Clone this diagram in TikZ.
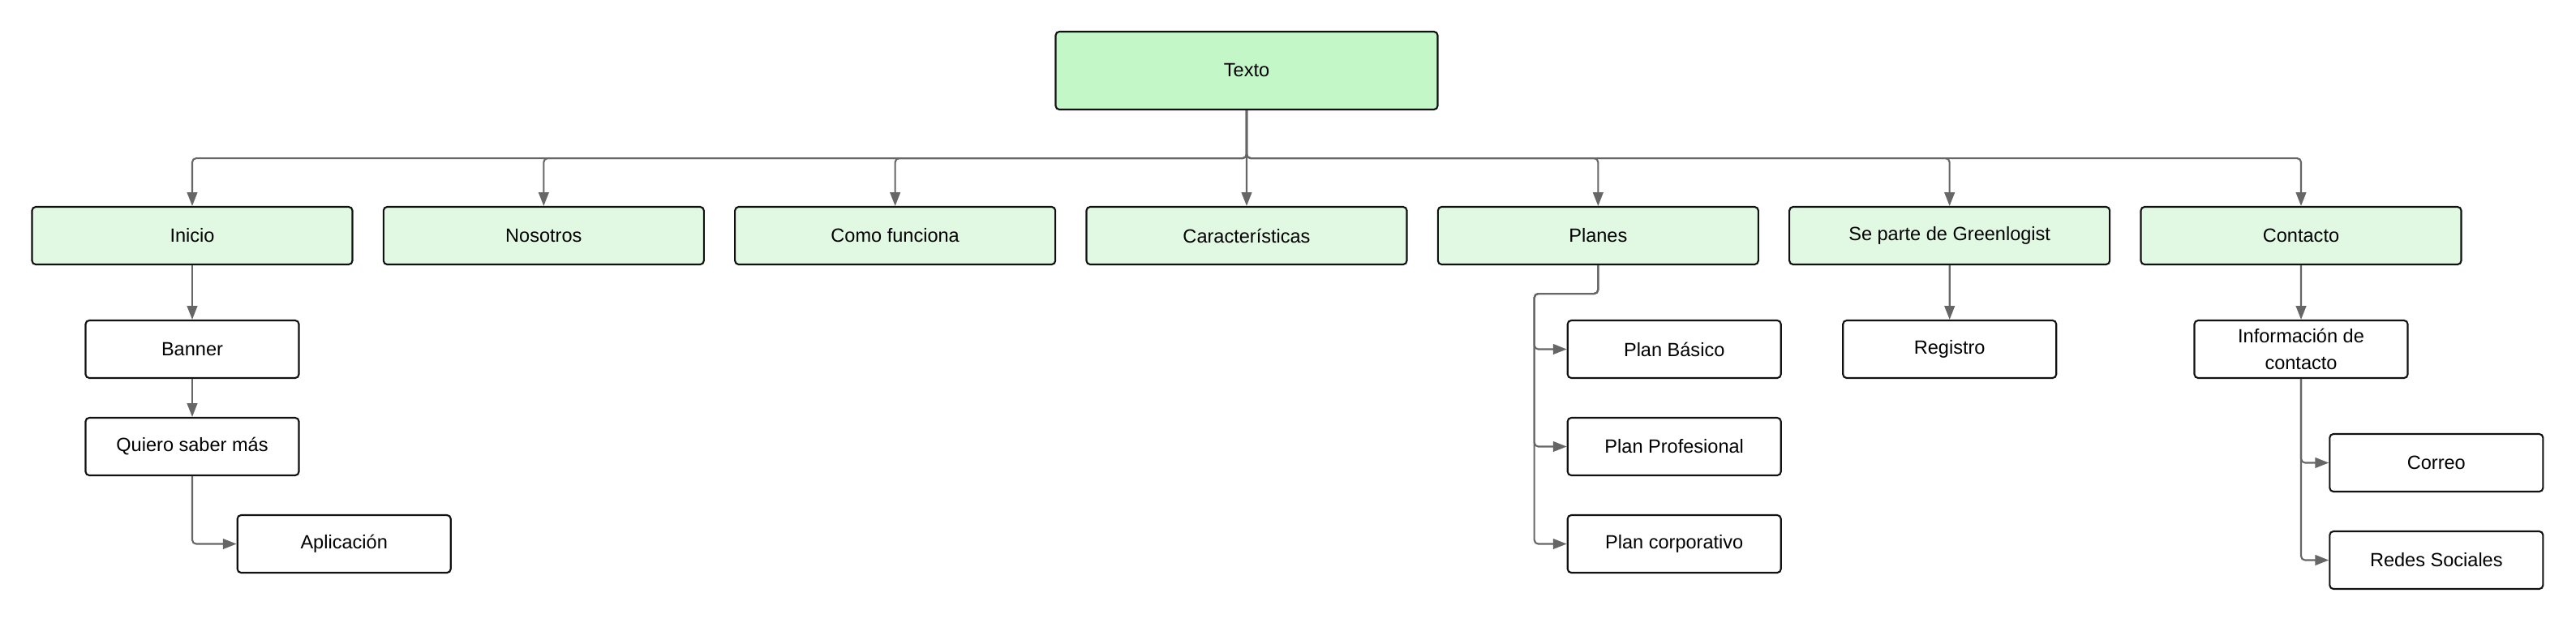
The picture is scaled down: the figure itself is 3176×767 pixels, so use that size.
\documentclass[tikz,border=0pt]{standalone}
\usepackage{fontspec}
\setmainfont{Liberation Sans}
\usetikzlibrary{arrows.meta,calc}
\definecolor{rootgreen}{HTML}{C3F7C8}
\definecolor{pagegreen}{HTML}{E1F9E3}
\definecolor{linkgray}{HTML}{666666}
\definecolor{boxline}{HTML}{111111}
\tikzset{
  box/.style={draw=boxline,line width=0.6pt,rounded corners=1.3pt,inner sep=0pt,align=center,font=\fontsize{6.7pt}{9.3pt}\selectfont},
  root/.style={box,fill=rootgreen,minimum width=47.1mm,minimum height=9.6mm},
  page/.style={box,fill=pagegreen,minimum width=39.5mm,minimum height=7.1mm},
  item/.style={box,fill=white,minimum width=26.3mm,minimum height=7.1mm},
  link/.style={draw=linkgray,line width=0.6pt,rounded corners=1.4pt,-{Triangle[length=4.8pt,width=3.6pt]}}
}
\begin{document}
\begin{tikzpicture}[x=0.1mm,y=-0.1mm]
\useasboundingbox (0,0) rectangle (3176,767);
% root and site sections
\node[root] (texto) at (1537,87) {Texto};
\foreach \name/\label [count=\i from 0] in {inicio/Inicio,nosotros/Nosotros,como/Como funciona,caract/Características,planes/Planes,separte/Se parte de Greenlogist,contacto/Contacto}
  \node[page] (\name) at (237+433.33*\i,290.5) {\label};
\foreach \name in {inicio,nosotros,como,planes,separte,contacto}
  \draw[link] (texto.south) -- ++(0,59) -| (\name.north);
\draw[link] (texto) -- (caract);
% Inicio
\node[item] (banner) at (237,430.5) {Banner};
\node[item] (quiero) at (237,550.5) {Quiero saber más};
\node[item] (aplicacion) at (424.2,670.5) {Aplicación};
\draw[link] (inicio) -- (banner);
\draw[link] (banner) -- (quiero);
\draw[link] (quiero.south) |- (aplicacion.west);
% Planes
\node[item] (basico) at (2064.2,430.5) {Plan Básico};
\node[item] (profesional) at (2064.2,550.5) {Plan Profesional};
\node[item] (corporativo) at (2064.2,670.5) {Plan corporativo};
\foreach \name in {basico,profesional,corporativo}
  \draw[link] (planes.south) -- ++(0,35) -| ($(\name.west)+(-40,0)$) -- (\name.west);
% Se parte de Greenlogist
\node[item] (registro) at (2403.7,430.5) {Registro};
\draw[link] (separte) -- (registro);
% Contacto
\node[item] (info) at (2837,430.5) {Información de\\contacto};
\node[item] (correo) at (3003.8,570.5) {Correo};
\node[item] (redes) at (3003.8,690.5) {Redes Sociales};
\draw[link] (contacto) -- (info);
\draw[link] (info.south) |- (correo.west);
\draw[link] (info.south) |- (redes.west);
\end{tikzpicture}
\end{document}
